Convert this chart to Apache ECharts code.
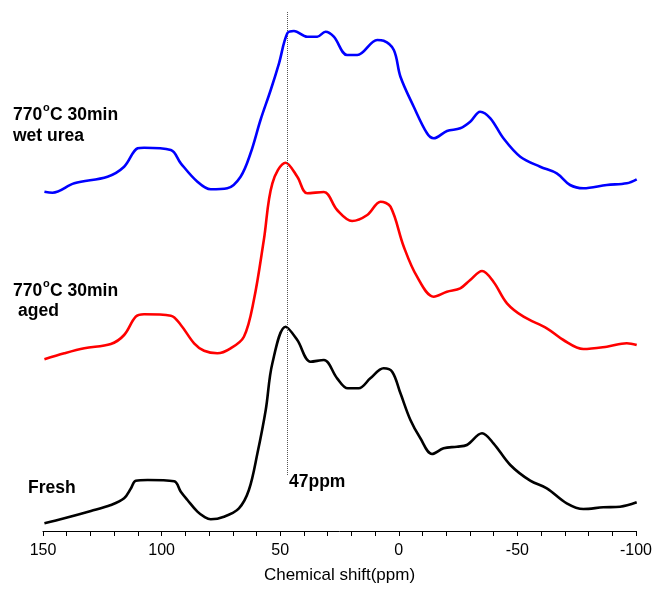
<!DOCTYPE html>
<html>
<head>
<meta charset="utf-8">
<script src="https://cdn.jsdelivr.net/npm/echarts@6/dist/echarts.min.js"></script>
<style>
html, body {margin: 0; padding: 0; background: #fff;}
#chart {width: 659px; height: 594px;}
</style>
</head>
<body>
<div id="chart"></div>
<script>
// 化学位移 (ppm) 与强度 (任意单位, 相对各自基线)
const freshPpm = [149.4, 141, 129.8, 121.4, 115.8, 112.9, 110.9, 105.9, 94.7, 91.9, 89.1, 84.9, 82.1, 79.3, 73.7, 67.4, 63.2, 59.6, 56.1, 53.3, 47.7, 42.8, 37.2, 31.6, 26.0, 21.5, 16.9, 12.0, 6.4, 2.8, -0.7, -4.9, -9.1, -14.0, -18.9, -24.5, -28.7, -35.1, -39.9, -47.0, -55.4, -62.4, -70.8, -77.8, -86.2, -93.3, -100.3];
const freshVal = [7.7, 12.7, 20, 26, 32.7, 42.7, 50.3, 51, 49.7, 39.3, 31, 19.3, 14.3, 11.7, 14.3, 22.7, 41, 77.7, 121, 167.7, 204.3, 191, 169.3, 171, 152.7, 142.7, 142.7, 152.7, 162.7, 159.3, 137.7, 111, 92.7, 77, 82.7, 84.3, 86, 97.7, 87.7, 66, 50.3, 42.7, 27.7, 22, 23.7, 24.3, 28.7];

const agedPpm = [149.4, 141, 132.6, 121.4, 115.8, 110.9, 107.4, 96.1, 91.9, 86.3, 82.1, 76.5, 70.9, 65.3, 61.1, 56.9, 53.3, 47.7, 42.8, 38.6, 31.6, 26.0, 19.7, 13.3, 7.7, 3.5, -2.1, -7.7, -14.7, -20.3, -25.9, -30.1, -35.1, -39.9, -45.6, -52.6, -62.4, -69.4, -77.8, -87.7, -96.1, -100.3];
const agedVal = [6.7, 12.7, 17.7, 22, 31, 49.3, 51.7, 50.3, 41, 22.7, 15.3, 12.7, 17.7, 29.3, 66, 126, 182.7, 203.3, 189.3, 172.7, 174, 156, 145, 151, 164.3, 159.3, 119.3, 89.3, 69.3, 74.3, 77.7, 86, 95, 84.3, 62.7, 49.3, 37.7, 26, 17, 19.3, 22.7, 21];

const wetPpm = [149.4, 146, 136.8, 122.8, 115.8, 110.1, 107.4, 96.1, 91.9, 84.9, 79.3, 72.3, 66.7, 62.5, 58.3, 54.0, 50.5, 47.0, 44.2, 38.6, 34.4, 30.9, 27.4, 21.8, 17.5, 9.1, 6.4, 2.1, -0.7, -6.3, -11.9, -14.7, -20.3, -25.9, -30.1, -34.3, -38.6, -44.1, -51.2, -59.6, -66.6, -72.2, -77.8, -87.7, -96.1, -100.3];
const wetVal = [9.3, 8.3, 17.7, 24.3, 34.3, 52.7, 53.3, 51, 37.7, 19.3, 11.7, 12.7, 24.3, 47.7, 81, 111, 137.7, 167.7, 170, 164.3, 164.3, 169.3, 164.3, 146, 146, 161, 160.3, 151, 124.3, 94.3, 67.7, 62.7, 70, 72.7, 79.3, 89.3, 82.7, 62.7, 44.3, 34.3, 27.7, 16, 12.7, 16, 17.7, 21.7];

const sampleNames = ['Fresh', '770°C 30min aged', '770°C 30min wet urea'];
const sampleOffsets = [0, 165, 330];
const sampleColors = ['#000000', '#ff0000', '#0000ff'];
const xTicks = [150, 100, 50, 0, -50, -100];
const markPpm = 47;

function pairs(ppm, val, offset) {
    return ppm.map(function (p, i) { return [p, val[i] + offset]; });
}

const spectra = [
    pairs(freshPpm, freshVal, sampleOffsets[0]),
    pairs(agedPpm, agedVal, sampleOffsets[1]),
    pairs(wetPpm, wetVal, sampleOffsets[2])
];

let chart = echarts.init(document.getElementById('chart'));

const labelFont = {fontFamily: 'Liberation Sans, Arial', fontWeight: 'bold', fontSize: 17.5, fill: '#000'};
const supStyle = {fontFamily: 'Liberation Sans, Arial', fontWeight: 'bold', fontSize: 11, fill: '#000'};

function tempLabel(x, y) {
    // 770°C 30min 的上标 o 单独画
    return {
        type: 'group', left: x, top: y,
        children: [
            {type: 'text', x: 0, y: 0, style: Object.assign({text: '770'}, labelFont)},
            {type: 'text', x: 30, y: -4, style: Object.assign({text: 'o'}, supStyle)},
            {type: 'text', x: 37, y: 0, style: Object.assign({text: 'C 30min'}, labelFont)}
        ]
    };
}

let option = {
    backgroundColor: '#fff',
    animation: false,
    grid: {left: 43, right: 23, top: 11, bottom: 63},
    xAxis: {
        type: 'value', min: -100, max: 150, interval: 50, inverse: true,
        name: 'Chemical shift(ppm)', nameLocation: 'middle', nameGap: 36,
        nameTextStyle: {color: '#000', fontSize: 17, fontFamily: 'Liberation Sans, Arial'},
        axisLine: {show: true, lineStyle: {color: '#000', width: 1}},
        axisTick: {show: true, length: 5, lineStyle: {color: '#000'}},
        minorTick: {show: true, splitNumber: 5, length: 5, lineStyle: {color: '#000'}},
        axisLabel: {
            color: '#000', fontSize: 16, fontFamily: 'Liberation Sans, Arial', margin: 12,
            formatter: function (v) { return xTicks.indexOf(v) >= 0 ? String(v) : ''; }
        },
        splitLine: {show: false}
    },
    yAxis: {type: 'value', min: 0, max: 520, show: false},
    series: spectra.map(function (d, i) {
        let s = {
            name: sampleNames[i], type: 'line', data: d, showSymbol: false,
            smooth: 0.35, smoothMonotone: 'none',
            lineStyle: {color: sampleColors[i], width: 2.6}, z: 3 + i
        };
        if (i === 0) {
            s.markLine = {
                silent: true, symbol: 'none', label: {show: false},
                lineStyle: {color: '#555', type: [1, 1], width: 1},
                data: [[{coord: [markPpm, 56]}, {coord: [markPpm, 519]}]]
            };
        }
        return s;
    }),
    graphic: [
        tempLabel(13, 102),
        {type: 'text', left: 13, top: 127, style: Object.assign({text: 'wet urea'}, labelFont)},
        tempLabel(13, 278),
        {type: 'text', left: 18, top: 302, style: Object.assign({text: 'aged'}, labelFont)},
        {type: 'text', left: 28, top: 479, style: Object.assign({text: 'Fresh'}, labelFont)},
        {type: 'text', left: 289, top: 473, style: Object.assign({text: markPpm + 'ppm'}, labelFont)}
    ]
};
chart.setOption(option, true);
</script>
</body>
</html>
